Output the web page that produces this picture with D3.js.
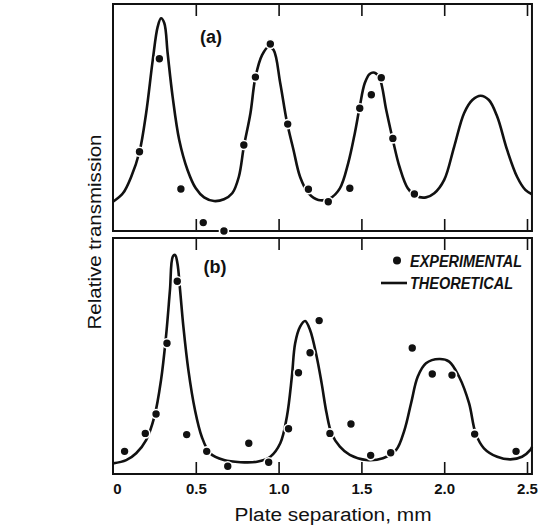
<!DOCTYPE html>
<html>
 <head>
  <meta charset="utf-8" />
  <title>Relative transmission vs plate separation</title>
  <style>
   body, html {
    margin: 0;
    padding: 0;
    background-color: white;
    overflow: hidden;
   }
   svg {
    display: block;
   }
   .tick text {
    font-family: "Liberation Sans", Arial, sans-serif;
    font-weight: bold;
    font-size: 15px;
    fill: #111;
   }
   .tick line {
    stroke: #111;
    stroke-width: 1.6;
   }
  </style>
  <script src="https://cdnjs.cloudflare.com/ajax/libs/d3/7.9.0/d3.min.js"></script>
 </head>
 <body>
  <svg width="538" height="527"></svg>
  <script>
   // plate separation (mm) ticks
   const xTicks = [0, 0.5, 1.0, 1.5, 2.0, 2.5];
   const xTickLabels = ["0", "0.5", "1.0", "1.5", "2.0", "2.5"];

   // panel (a): theoretical curve
   const theoryA_x = [0, 0.06, 0.11, 0.16, 0.20, 0.24, 0.27, 0.29, 0.31, 0.33, 0.36, 0.40, 0.45, 0.50, 0.55, 0.61, 0.67, 0.72, 0.76, 0.79, 0.83, 0.86, 0.90, 0.94, 0.97, 1.01, 1.05, 1.09, 1.13, 1.18, 1.24, 1.31, 1.37, 1.42, 1.46, 1.49, 1.52, 1.55, 1.58, 1.61, 1.65, 1.69, 1.73, 1.78, 1.83, 1.89, 1.94, 2.00, 2.06, 2.12, 2.17, 2.22, 2.27, 2.32, 2.38, 2.44, 2.49, 2.53];
   const theoryA_y = [0.129, 0.166, 0.239, 0.349, 0.519, 0.753, 0.900, 0.937, 0.915, 0.783, 0.592, 0.401, 0.269, 0.188, 0.148, 0.132, 0.140, 0.166, 0.239, 0.371, 0.519, 0.677, 0.775, 0.812, 0.797, 0.651, 0.481, 0.357, 0.238, 0.167, 0.137, 0.144, 0.188, 0.298, 0.430, 0.548, 0.651, 0.692, 0.697, 0.673, 0.533, 0.401, 0.283, 0.188, 0.154, 0.148, 0.166, 0.225, 0.371, 0.519, 0.577, 0.596, 0.577, 0.504, 0.357, 0.239, 0.181, 0.162];

   // panel (a): experimental points
   const expA_x = [0.16, 0.28, 0.41, 0.545, 0.67, 0.79, 0.86, 0.95, 1.055, 1.18, 1.30, 1.43, 1.49, 1.56, 1.62, 1.69, 1.82];
   const expA_y = [0.349, 0.759, 0.185, 0.037, 0.0, 0.379, 0.678, 0.824, 0.471, 0.184, 0.129, 0.188, 0.541, 0.600, 0.675, 0.408, 0.163];

   // panel (b): theoretical curve
   const theoryB_x = [0, 0.08, 0.14, 0.20, 0.25, 0.29, 0.32, 0.344, 0.361, 0.375, 0.389, 0.405, 0.425, 0.455, 0.495, 0.536, 0.586, 0.67, 0.77, 0.87, 0.95, 1.01, 1.05, 1.08, 1.10, 1.13, 1.16, 1.19, 1.23, 1.26, 1.29, 1.32, 1.37, 1.43, 1.53, 1.63, 1.71, 1.76, 1.80, 1.84, 1.89, 1.97, 2.03, 2.09, 2.15, 2.19, 2.24, 2.32, 2.40, 2.47, 2.52, 2.53];
   const theoryB_y = [0.045, 0.059, 0.088, 0.144, 0.243, 0.398, 0.582, 0.780, 0.921, 0.928, 0.893, 0.780, 0.624, 0.441, 0.271, 0.158, 0.088, 0.059, 0.050, 0.052, 0.073, 0.130, 0.243, 0.412, 0.554, 0.624, 0.648, 0.610, 0.497, 0.384, 0.257, 0.172, 0.116, 0.081, 0.059, 0.067, 0.102, 0.186, 0.300, 0.412, 0.469, 0.487, 0.476, 0.412, 0.300, 0.172, 0.109, 0.073, 0.062, 0.073, 0.102, 0.115];

   // panel (b): experimental points
   const expB_x = [0.07, 0.195, 0.26, 0.326, 0.388, 0.445, 0.566, 0.693, 0.82, 0.94, 1.06, 1.12, 1.19, 1.245, 1.31, 1.437, 1.556, 1.677, 1.807, 1.928, 2.047, 2.184, 2.434];
   const expB_y = [0.096, 0.172, 0.254, 0.554, 0.817, 0.167, 0.096, 0.033, 0.130, 0.050, 0.192, 0.429, 0.514, 0.650, 0.172, 0.212, 0.079, 0.090, 0.534, 0.424, 0.419, 0.169, 0.096];

   const xMax = 2.53;
   const ink = "#111";
   const font = "\"Liberation Sans\", Arial, sans-serif";

   const svg = d3.select("svg");

   const x = d3.scaleLinear().domain([0, 2.5]).range([113, 527]);

   const panels = [
    { label: "(a)", top: 4, bottom: 231, tx: theoryA_x, ty: theoryA_y, ex: expA_x, ey: expA_y, labelX: 211, labelY: 38 },
    { label: "(b)", top: 238, bottom: 474, tx: theoryB_x, ty: theoryB_y, ex: expB_x, ey: expB_y, labelX: 215, labelY: 268 }
   ];

   panels.forEach((p, i) => {
    const y = d3.scaleLinear().domain([0, 1]).range([p.bottom, p.top]);
    const g = svg.append("g");

    // inward ticks along top edge
    g.append("g")
     .attr("transform", `translate(0,${p.top})`)
     .call(d3.axisTop(x).tickValues(xTicks.slice(1)).tickSize(-12).tickSizeOuter(0).tickFormat(""))
     .call(a => a.select(".domain").remove());

    // inward ticks along bottom edge, labels only on the lower panel
    const bottomAxis = d3.axisBottom(x)
     .tickValues(i === 1 ? xTicks : xTicks.slice(1))
     .tickSize(-12)
     .tickSizeOuter(0)
     .tickPadding(9)
     .tickFormat(i === 1 ? (d, k) => xTickLabels[k] : "");
    g.append("g")
     .attr("transform", `translate(0,${p.bottom})`)
     .call(bottomAxis)
     .call(a => a.select(".domain").remove())
     .call(a => a.selectAll(".tick").filter(d => d === 0).select("line").remove())
     .call(a => a.selectAll(".tick").filter(d => d === 0).select("text").attr("dx", 4));

    // frame
    g.append("rect")
     .attr("x", x(0))
     .attr("y", p.top)
     .attr("width", x(xMax) - x(0))
     .attr("height", p.bottom - p.top)
     .attr("fill", "none")
     .attr("stroke", ink)
     .attr("stroke-width", 2);

    const line = d3.line()
     .x(d => x(d[0]))
     .y(d => y(d[1]))
     .curve(d3.curveCatmullRom.alpha(0.5));

    g.append("path")
     .datum(p.tx.map((v, k) => [v, p.ty[k]]))
     .attr("d", line)
     .attr("fill", "none")
     .attr("stroke", ink)
     .attr("stroke-width", 2.6);

    g.selectAll("circle")
     .data(p.ex.map((v, k) => [v, p.ey[k]]))
     .enter().append("circle")
     .attr("cx", d => x(d[0]))
     .attr("cy", d => y(d[1]))
     .attr("r", 4.5)
     .attr("fill", ink)
     .attr("stroke", "white")
     .attr("stroke-width", 1.6);

    g.append("text")
     .attr("x", p.labelX)
     .attr("y", p.labelY)
     .attr("text-anchor", "middle")
     .attr("dominant-baseline", "middle")
     .style("font-family", font)
     .style("font-size", "18px")
     .style("font-weight", "bold")
     .attr("fill", ink)
     .text(p.label);
   });

   // legend in panel (b)
   const legend = svg.append("g");
   legend.append("circle")
    .attr("cx", 397)
    .attr("cy", 260.5)
    .attr("r", 4)
    .attr("fill", ink);
   legend.append("line")
    .attr("x1", 381)
    .attr("x2", 407)
    .attr("y1", 283)
    .attr("y2", 283)
    .attr("stroke", ink)
    .attr("stroke-width", 2.6);
   [["EXPERIMENTAL", 266.5, 112], ["THEORETICAL", 289, 103]].forEach(t => {
    legend.append("text")
     .attr("x", 410)
     .attr("y", t[1])
     .attr("textLength", t[2])
     .attr("lengthAdjust", "spacingAndGlyphs")
     .style("font-family", font)
     .style("font-size", "16px")
     .style("font-style", "italic")
     .style("font-weight", "bold")
     .attr("fill", ink)
     .text(t[0]);
   });

   // axis titles
   svg.append("text")
    .attr("x", 333)
    .attr("y", 521)
    .attr("text-anchor", "middle")
    .attr("textLength", 197)
    .attr("lengthAdjust", "spacingAndGlyphs")
    .style("font-family", font)
    .style("font-size", "18px")
    .attr("fill", ink)
    .text("Plate separation, mm");

   svg.append("text")
    .attr("transform", "translate(101,232) rotate(-90)")
    .attr("text-anchor", "middle")
    .attr("textLength", 195)
    .attr("lengthAdjust", "spacingAndGlyphs")
    .style("font-family", font)
    .style("font-size", "18px")
    .attr("fill", ink)
    .text("Relative transmission");
  </script>
 </body>
</html>
